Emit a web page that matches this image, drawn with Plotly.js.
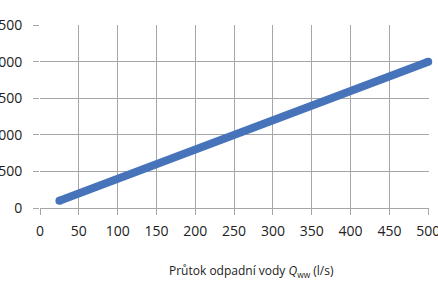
<!DOCTYPE html>
<html><head><meta charset="utf-8">
<script src="https://cdn.plot.ly/plotly-3.0.1.min.js"></script>
<style>html,body{margin:0;padding:0;background:#fff}#c{width:438px;height:292px}</style>
</head><body><div id="c"></div>
<script>
const flowX = [25, 500];
const valueY = [100, 2000];
const xTicks = [0, 50, 100, 150, 200, 250, 300, 350, 400, 450, 500];
const yTicks = [0, 500, 1000, 1500, 2000, 2500];
const xTitle = 'Průtok odpadní vody <i>Q</i><sub>ww</sub> (l/s)';

const grid = '#a6a6a6';
const font = {family: 'Open Sans, sans-serif', size: 14, color: '#222'};
Plotly.newPlot('c', [{
  x: flowX, y: valueY, mode: 'lines+markers', type: 'scatter',
  line: {color: '#4673b9', width: 8, shape: 'linear'},
  marker: {color: '#4673b9', size: 8, line: {width: 0}},
  cliponaxis: false,
  hoverinfo: 'skip'
}], {
  width: 438, height: 292,
  margin: {l: 40, r: 9, t: 25, b: 84},
  paper_bgcolor: '#fff', plot_bgcolor: '#fff',
  showlegend: false,
  xaxis: {range: [0, 501], tickvals: xTicks, ticktext: xTicks.map(String),
    showgrid: true, gridcolor: grid, gridwidth: 1, zeroline: false,
    showline: false, ticks: 'outside', ticklen: 6, tickcolor: grid,
    tickfont: font, ticklabelstandoff: 4, ticklabeloverflow: 'allow', fixedrange: true},
  yaxis: {range: [0, 2502], tickvals: yTicks, ticktext: yTicks.map(String),
    showgrid: true, gridcolor: grid, gridwidth: 1, zeroline: true, zerolinecolor: grid, zerolinewidth: 1,
    showline: false, ticks: 'outside', ticklen: 6, tickcolor: grid,
    tickfont: font, ticklabelstandoff: 8, ticklabeloverflow: 'allow', fixedrange: true},
  annotations: [{text: xTitle, xref: 'paper', yref: 'paper', x: (251-40)/389, y: -(271-208)/183,
    xanchor: 'center', yanchor: 'middle', showarrow: false,
    font: {family: 'Open Sans, sans-serif', size: 12, color: '#222'}}]
}, {staticPlot: true, displayModeBar: false});
</script></body></html>
